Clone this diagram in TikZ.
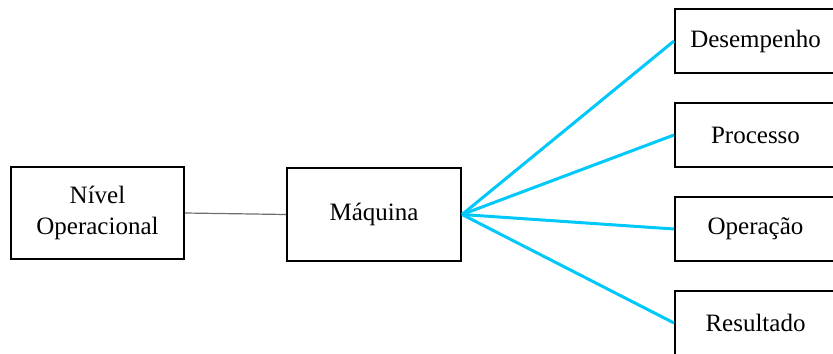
\documentclass[tikz,border=0pt]{standalone}
\usepackage{fontspec}
\setmainfont{Liberation Serif}
\definecolor{linkblue}{RGB}{0,200,250}
\definecolor{linkgray}{RGB}{110,110,110}
\begin{document}
\begin{tikzpicture}[x=0.5pt,y=-0.5pt,
  box/.style={draw=black,line width=1pt,inner sep=0pt,font=\fontsize{12.5}{15.5}\selectfont,align=center},
  blueline/.style={draw=linkblue,line width=1.5pt},
  grayline/.style={draw=linkgray,line width=0.6pt}]
\useasboundingbox[clip] (0,0) rectangle (833,353);
\node[box,minimum width=173pt*0.5,minimum height=92pt*0.5] (nivel) at (97.5,213) {Nível\\Operacional};
\node[box,minimum width=174pt*0.5,minimum height=93pt*0.5] (maq) at (374,214.5) {Máquina};
\node[box,minimum width=161pt*0.5,minimum height=64pt*0.5] (des) at (755.5,41) {Desempenho};
\node[box,minimum width=161pt*0.5,minimum height=64pt*0.5] (pro) at (755.5,135) {Processo};
\node[box,minimum width=161pt*0.5,minimum height=64pt*0.5] (ope) at (755.5,229) {Operação};
\node[box,minimum width=161pt*0.5,minimum height=64pt*0.5] (res) at (755.5,323) {Resultado};
\draw[grayline] (nivel.east) -- (maq.west);
\draw[blueline] (maq.east) -- (des.west);
\draw[blueline] (maq.east) -- (pro.west);
\draw[blueline] (maq.east) -- (ope.west);
\draw[blueline] (maq.east) -- (res.west);
\end{tikzpicture}
\end{document}
